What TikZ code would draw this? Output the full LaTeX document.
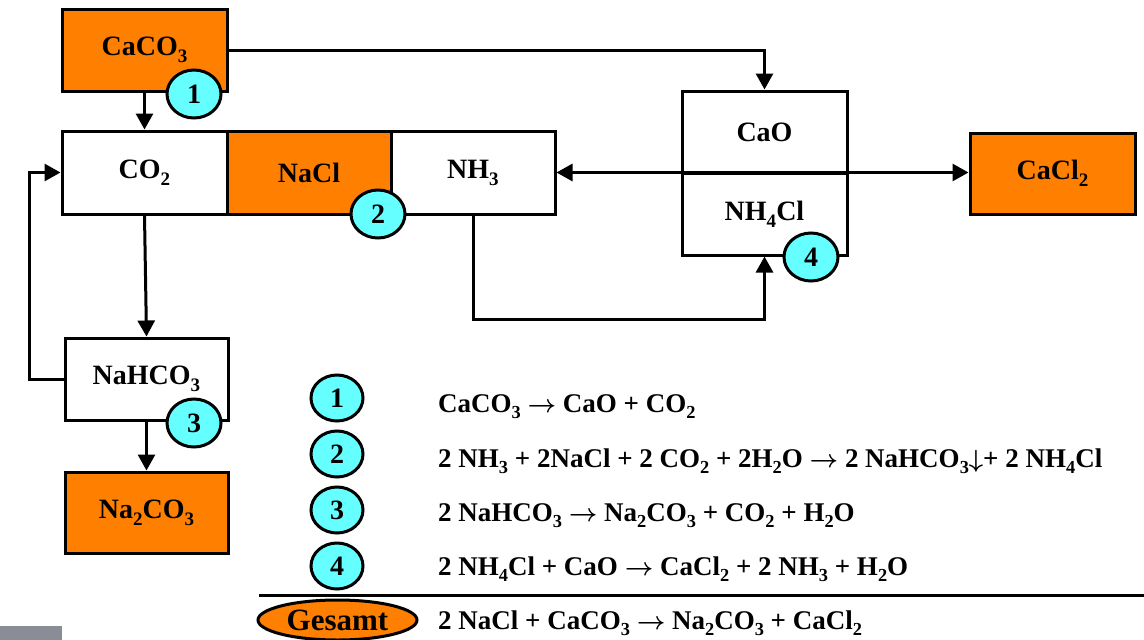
\documentclass[tikz,border=0pt]{standalone}
\usepackage{fontspec}
\setmainfont{Liberation Serif}
\usetikzlibrary{arrows.meta,shapes.geometric}
\definecolor{boxorange}{RGB}{255,128,0}
\definecolor{numcyan}{RGB}{102,255,255}
\definecolor{slidegray}{RGB}{138,141,150}
\newcommand\rarr{{\boldmath$\rightarrow$}}
\newcommand\darr{{\boldmath$\downarrow$}}
\newcommand\sbs[1]{\raisebox{-0.25em}{\scalebox{0.68}{#1}}}
\tikzset{
 base/.style={draw=black, line width=3pt, inner sep=0pt},
 box/.style={base, rectangle, fill=white, font=\fontsize{28}{30}\selectfont\bfseries},
 obox/.style={box, fill=boxorange},
 num/.style={base, ellipse, fill=numcyan, minimum width=54pt, minimum height=48pt, font=\fontsize{28}{30}\selectfont\bfseries},
 lnum/.style={num, minimum width=52pt, minimum height=46pt},
 conn/.style={line width=3pt, -{Triangle[length=16pt,width=17pt]}},
 dconn/.style={line width=3pt, {Triangle[length=16pt,width=17pt]}-{Triangle[length=16pt,width=17pt]}},
 eq/.style={anchor=base west, inner sep=0pt, font=\fontsize{27}{29}\selectfont\bfseries}
}
\begin{document}
\begin{tikzpicture}[x=1pt,y=-1pt]
\useasboundingbox (0,0) rectangle (1144,640);
\fill[slidegray] (0,626) rectangle (62,640);
% boxes
\node[obox, minimum width=165pt, minimum height=82pt] (caco3) at (144.5,50) {CaCO\sbs{3}};
\node[box, minimum width=165pt, minimum height=83pt] (co2) at (144.5,172.5) {CO\sbs{2}};
\node[obox, minimum width=164pt, minimum height=83pt] (nacl) at (309,172.5) {NaCl};
\node[box, minimum width=164pt, minimum height=83pt] (nh3) at (473,172.5) {NH\sbs{3}};
\node[box, minimum width=165pt, minimum height=82pt] (cao) at (764.5,132) {CaO};
\node[box, minimum width=165pt, minimum height=82pt] (nh4cl) at (764.5,214) {NH\sbs{4}Cl};
\node[obox, minimum width=165pt, minimum height=81pt] (cacl2) at (1052.5,173.5) {CaCl\sbs{2}};
\node[box, minimum width=163pt, minimum height=82pt] (nahco3) at (146.5,379) {NaHCO\sbs{3}};
\node[obox, minimum width=163pt, minimum height=81pt] (na2co3) at (146.5,512.5) {Na\sbs{2}CO\sbs{3}};
% connectors
\draw[conn] (caco3.south) -- (co2.north);
\draw[conn] (caco3.east) -| (cao.north);
\draw[dconn] (nh3.east) -- (nh3.east -| cacl2.west);
\draw[conn] (co2.south) -- (nahco3.north);
\draw[conn] (nahco3.west) -- ++(-34,0) |- (co2.west);
\draw[conn] (nahco3.south) -- (na2co3.north);
\draw[conn] (nh3.south) -- ++(0,104) -| (nh4cl.south);
% step numbers
\node[num] (n1) at (194,94) {1};
\node[num] (n2) at (378,214) {2};
\node[num] (n3) at (194,423) {3};
\node[num] (n4) at (811,257) {4};
% legend
\node[lnum] (l1) at (337,398) {1};
\node[lnum] (l2) at (337,454) {2};
\node[lnum] (l3) at (337,510) {3};
\node[lnum] (l4) at (337,566) {4};
\node[base, ellipse, fill=boxorange, minimum width=159pt, minimum height=40pt, font=\fontsize{31}{33}\selectfont\bfseries] (ges) at (337.5,620) {Gesamt};
\coordinate (ruleL) at (259,595);
\coordinate (ruleR) at (1144,595);
\draw[line width=3pt] (ruleL) -- (ruleR);
\node[eq] (e1) at (438,412) {CaCO\sbs{3} \rarr{} CaO + CO\sbs{2}};
\node[eq] (e2) at (438,467) {2 NH\sbs{3} + 2NaCl + 2 CO\sbs{2} + 2H\sbs{2}O \rarr{} 2 NaHCO\sbs{3}\darr+ 2 NH\sbs{4}Cl};
\node[eq] (e3) at (438,521) {2 NaHCO\sbs{3} \rarr{} Na\sbs{2}CO\sbs{3} + CO\sbs{2} + H\sbs{2}O};
\node[eq] (e4) at (438,575) {2 NH\sbs{4}Cl + CaO \rarr{} CaCl\sbs{2} + 2 NH\sbs{3} + H\sbs{2}O};
\node[eq] (e5) at (438,629) {2 NaCl + CaCO\sbs{3} \rarr{} Na\sbs{2}CO\sbs{3} + CaCl\sbs{2}};
\end{tikzpicture}
\end{document}
